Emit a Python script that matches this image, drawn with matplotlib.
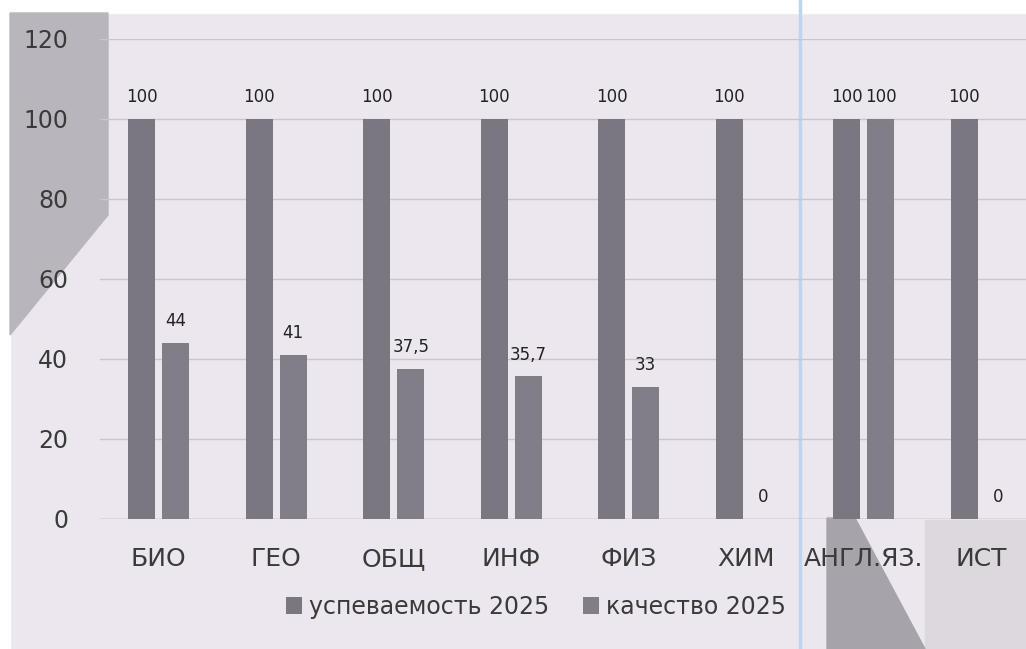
import matplotlib
matplotlib.use("Agg")
import matplotlib.pyplot as plt
import numpy as np
from matplotlib.patches import Polygon

categories = ["БИО", "ГЕО", "ОБЩ", "ИНФ", "ФИЗ", "ХИМ", "АНГЛ.ЯЗ.", "ИСТ"]
uspev = [100, 100, 100, 100, 100, 100, 100, 100]
kachestvo = [44, 41, 37.5, 35.7, 33, 0, 100, 0]
series_names = ["успеваемость 2025", "качество 2025"]
yticks = [0, 20, 40, 60, 80, 100, 120]

W, H = 1026, 649
fig = plt.figure(figsize=(W / 100, H / 100), dpi=100)
fig.patch.set_facecolor("#ece7ee")

# scan background decorations
bg = fig.add_axes([0, 0, 1, 1], zorder=-10)
bg.set_xlim(0, W); bg.set_ylim(H, 0); bg.axis("off")
bg.add_patch(Polygon([[0, 0], [W, 0], [W, 13], [0, 13]], color="white"))
bg.add_patch(Polygon([[0, 0], [10, 0], [10, H], [0, H]], color="white"))
bg.add_patch(Polygon([[10, 13], [108, 13], [108, 215], [10, 335]], color="#b9b5bd"))
bg.add_patch(Polygon([[925, 520], [1026, 520], [1026, H], [925, H]], color="#dcd8de"))
bg.add_patch(Polygon([[827, 518], [855, 518], [925, H], [827, H]], color="#a7a3aa"))
bg.axvline(800, color="#bcd6ec", lw=2.5)

ax = fig.add_axes([100 / W, 1 - 519 / H, 926 / W, 480 / H])
ax.set_facecolor("none")

x = np.arange(len(categories))
w = 0.23
off = 0.145
b1 = ax.bar(x - off, uspev, w, color="#7b7780", label=series_names[0], zorder=3)
b2 = ax.bar(x + off, kachestvo, w, color="#827e87", label=series_names[1], zorder=3)

def fmt(v):
    return ("%g" % v).replace(".", ",")

for bars, vals in ((b1, uspev), (b2, kachestvo)):
    for r, v in zip(bars, vals):
        ax.annotate(fmt(v), (r.get_x() + r.get_width() / 2, v), xytext=(0, 9),
                    textcoords="offset points", ha="center", va="bottom",
                    fontsize=12, color="#222222")

ax.set_xlim(-0.5, -0.5 + 926 / 117.5)
ax.set_ylim(0, 120)
ax.set_yticks(yticks)
ax.set_xticks(x)
ax.set_xticklabels(categories)
ax.tick_params(axis="both", length=0, colors="#3a3a3a")
ax.tick_params(axis="x", pad=20, labelsize=18)
ax.tick_params(axis="y", pad=23, labelsize=17)
ax.grid(axis="y", color="#c9c6cb", lw=1, zorder=0)
for s in ax.spines.values():
    s.set_visible(False)
ax.axhline(0, color="#b9b6bb", lw=1, zorder=2)

fig.legend(handles=[b1, b2], labels=series_names, loc="center",
           bbox_to_anchor=(536 / W, 1 - 607 / H), ncol=2, frameon=False,
           fontsize=17, handlelength=0.7, handleheight=0.7, handletextpad=0.3,
           columnspacing=1.4, labelcolor="#3a3a3a")

fig.savefig("out.png", dpi=100, facecolor=fig.get_facecolor())
